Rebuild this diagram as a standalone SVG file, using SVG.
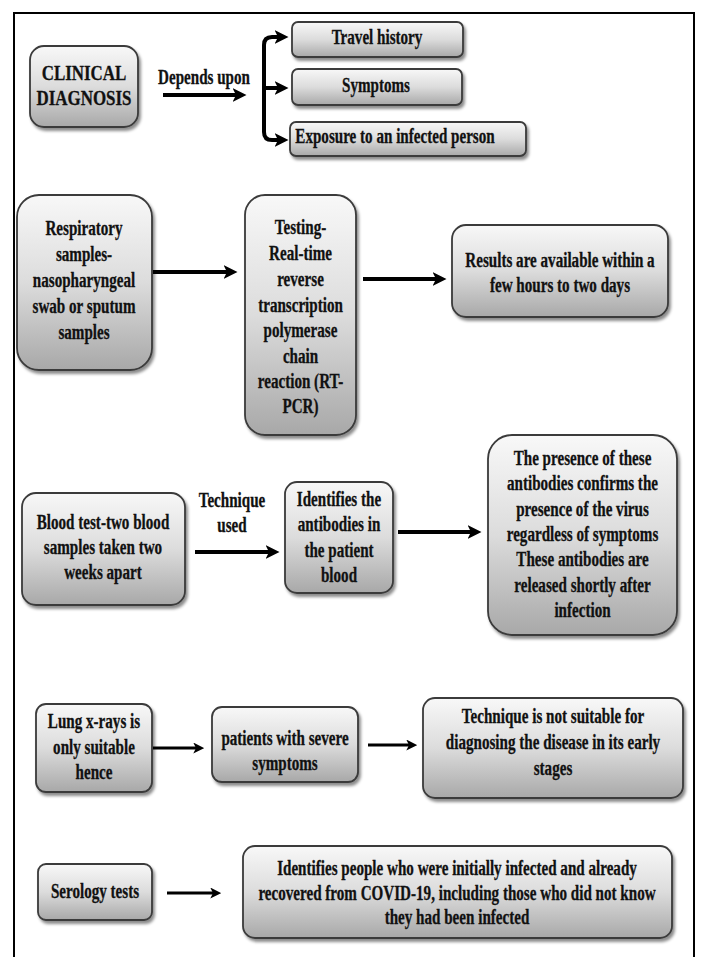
<svg xmlns="http://www.w3.org/2000/svg" width="701" height="957" viewBox="0 0 701 957">
<defs>
<linearGradient id="g" x1="0" y1="0" x2="0" y2="1">
<stop offset="0" stop-color="#f8f8f8"/>
<stop offset="0.5" stop-color="#dcdcdc"/>
<stop offset="1" stop-color="#a8a8a8"/>
</linearGradient>
<filter id="sh" x="-10%" y="-10%" width="130%" height="130%">
<feDropShadow dx="2" dy="3" stdDeviation="1.5" flood-color="#000" flood-opacity="0.45"/>
</filter>
<marker id="ah" viewBox="0 0 12 12" refX="3" refY="6" markerWidth="14" markerHeight="14" markerUnits="userSpaceOnUse" orient="auto">
<path d="M0,0 L12,6 L0,12 L3,6 z" fill="#000"/>
</marker>
<marker id="ahs" viewBox="0 0 12 12" refX="3" refY="6" markerWidth="11" markerHeight="11" markerUnits="userSpaceOnUse" orient="auto">
<path d="M0,0 L12,6 L0,12 L3,6 z" fill="#000"/>
</marker>
</defs>
<style>
.box{fill:url(#g);stroke:#3a3a3a;stroke-width:1.8;filter:url(#sh)}
.t{font-family:"Liberation Serif","Times New Roman",serif;font-weight:bold;font-size:20px;fill:#111;stroke:#111;stroke-width:0.3;text-anchor:middle}
.big{font-size:22px}
.c{fill:none;stroke:#000;stroke-width:4}
.cs{fill:none;stroke:#000;stroke-width:3}
.frame{fill:none;stroke:#000;stroke-width:2}
</style>
<rect width="701" height="957" fill="#fff"/>
<path class="frame" d="M14,960 V13 H694 V960"/>

<g id="connectors">
<text class="t" transform="translate(204 0) scale(0.755 1)"><tspan x="0" y="84">Depends upon</tspan></text>
<path class="c" d="M163,95 H236" marker-end="url(#ah)"/>
<path class="c" d="M264,88 V45 Q264,37 272,37 H278" marker-end="url(#ah)"/>
<path class="c" d="M264,88 V132 Q264,140 272,140 H278" marker-end="url(#ah)"/>
<path class="c" d="M262,88 H278" marker-end="url(#ah)"/>
<path class="c" d="M153,272 H227" marker-end="url(#ah)"/>
<path class="c" d="M363,279 H436" marker-end="url(#ah)"/>
<text class="t" transform="translate(232 0) scale(0.755 1)"><tspan x="0" y="507">Technique</tspan><tspan x="0" y="532">used</tspan></text>
<path class="c" d="M195,552 H269" marker-end="url(#ah)"/>
<path class="c" d="M398,532 H471" marker-end="url(#ah)"/>
<path class="cs" d="M153,748 H196" marker-end="url(#ahs)"/>
<path class="cs" d="M368,745 H409" marker-end="url(#ahs)"/>
<path class="cs" d="M167,893 H213" marker-end="url(#ahs)"/>
</g>

<g id="clinical">
<rect class="box" x="30" y="46" width="108" height="81" rx="14"/>
<text class="t big" transform="translate(84 0) scale(0.77 1)"><tspan x="0" y="80">CLINICAL</tspan><tspan x="0" y="105">DIAGNOSIS</tspan></text>
</g>
<g id="travel">
<rect class="box" x="292" y="22" width="171" height="35" rx="6"/>
<text class="t" transform="translate(377 0) scale(0.755 1)"><tspan x="0" y="44">Travel history</tspan></text>
</g>
<g id="symptoms">
<rect class="box" x="292" y="69" width="170" height="36" rx="6"/>
<text class="t" transform="translate(376 0) scale(0.755 1)"><tspan x="0" y="92">Symptoms</tspan></text>
</g>
<g id="exposure">
<rect class="box" x="290" y="122" width="236" height="34" rx="6"/>
<text class="t" transform="translate(395 0) scale(0.755 1)"><tspan x="0" y="143">Exposure to an infected person</tspan></text>
</g>

<g id="respiratory">
<rect class="box" x="17" y="195" width="135" height="175" rx="22"/>
<text class="t" transform="translate(84 0) scale(0.755 1)"><tspan x="0" y="235">Respiratory</tspan><tspan x="0" y="261">samples-</tspan><tspan x="0" y="287">nasopharyngeal</tspan><tspan x="0" y="313">swab or sputum</tspan><tspan x="0" y="339">samples</tspan></text>
</g>
<g id="testing">
<rect class="box" x="245" y="195" width="111" height="240" rx="20"/>
<text class="t" transform="translate(300.5 0) scale(0.755 1)"><tspan x="0" y="234">Testing-</tspan><tspan x="0" y="260">Real-time</tspan><tspan x="0" y="286">reverse</tspan><tspan x="0" y="312">transcription</tspan><tspan x="0" y="337">polymerase</tspan><tspan x="0" y="363">chain</tspan><tspan x="0" y="388">reaction (RT-</tspan><tspan x="0" y="413">PCR)</tspan></text>
</g>
<g id="results">
<rect class="box" x="452" y="225" width="216" height="92" rx="14"/>
<text class="t" transform="translate(560 0) scale(0.755 1)"><tspan x="0" y="267">Results are available within a</tspan><tspan x="0" y="292">few hours to two days</tspan></text>
</g>

<g id="blood">
<rect class="box" x="22" y="493" width="163" height="112" rx="14"/>
<text class="t" transform="translate(103 0) scale(0.755 1)"><tspan x="0" y="529">Blood test-two blood</tspan><tspan x="0" y="554">samples taken two</tspan><tspan x="0" y="579">weeks apart</tspan></text>
</g>
<g id="identifies">
<rect class="box" x="285" y="482" width="108" height="111" rx="12"/>
<text class="t" transform="translate(339 0) scale(0.755 1)"><tspan x="0" y="506">Identifies the</tspan><tspan x="0" y="531.5">antibodies in</tspan><tspan x="0" y="557">the patient</tspan><tspan x="0" y="582.5">blood</tspan></text>
</g>
<g id="presence">
<rect class="box" x="488" y="435" width="189" height="200" rx="24"/>
<text class="t" transform="translate(582.5 0) scale(0.755 1)"><tspan x="0" y="465">The presence of these</tspan><tspan x="0" y="490.5">antibodies confirms the</tspan><tspan x="0" y="516">presence of the virus</tspan><tspan x="0" y="541">regardless of symptoms</tspan><tspan x="0" y="566.5">These antibodies are</tspan><tspan x="0" y="592">released shortly after</tspan><tspan x="0" y="617">infection</tspan></text>
</g>

<g id="lung">
<rect class="box" x="36" y="704" width="116" height="88" rx="10"/>
<text class="t" transform="translate(94 0) scale(0.755 1)"><tspan x="0" y="728">Lung x-rays is</tspan><tspan x="0" y="754">only suitable</tspan><tspan x="0" y="779">hence</tspan></text>
</g>
<g id="patients">
<rect class="box" x="212" y="707" width="146" height="75" rx="10"/>
<text class="t" transform="translate(285 0) scale(0.755 1)"><tspan x="0" y="745">patients with severe</tspan><tspan x="0" y="770">symptoms</tspan></text>
</g>
<g id="technique">
<rect class="box" x="423" y="698" width="260" height="100" rx="12"/>
<text class="t" transform="translate(553 0) scale(0.755 1)"><tspan x="0" y="723">Technique is not suitable for</tspan><tspan x="0" y="749">diagnosing the disease in its early</tspan><tspan x="0" y="775">stages</tspan></text>
</g>

<g id="serology">
<rect class="box" x="38" y="864" width="114" height="56" rx="8"/>
<text class="t" transform="translate(95 0) scale(0.755 1)"><tspan x="0" y="898">Serology tests</tspan></text>
</g>
<g id="identpeople">
<rect class="box" x="243" y="846" width="429" height="92" rx="12"/>
<text class="t" transform="translate(457 0) scale(0.755 1)"><tspan x="0" y="875">Identifies people who were initially infected and already</tspan><tspan x="0" y="900">recovered from COVID-19, including those who did not know</tspan><tspan x="0" y="924">they had been infected</tspan></text>
</g>
</svg>
